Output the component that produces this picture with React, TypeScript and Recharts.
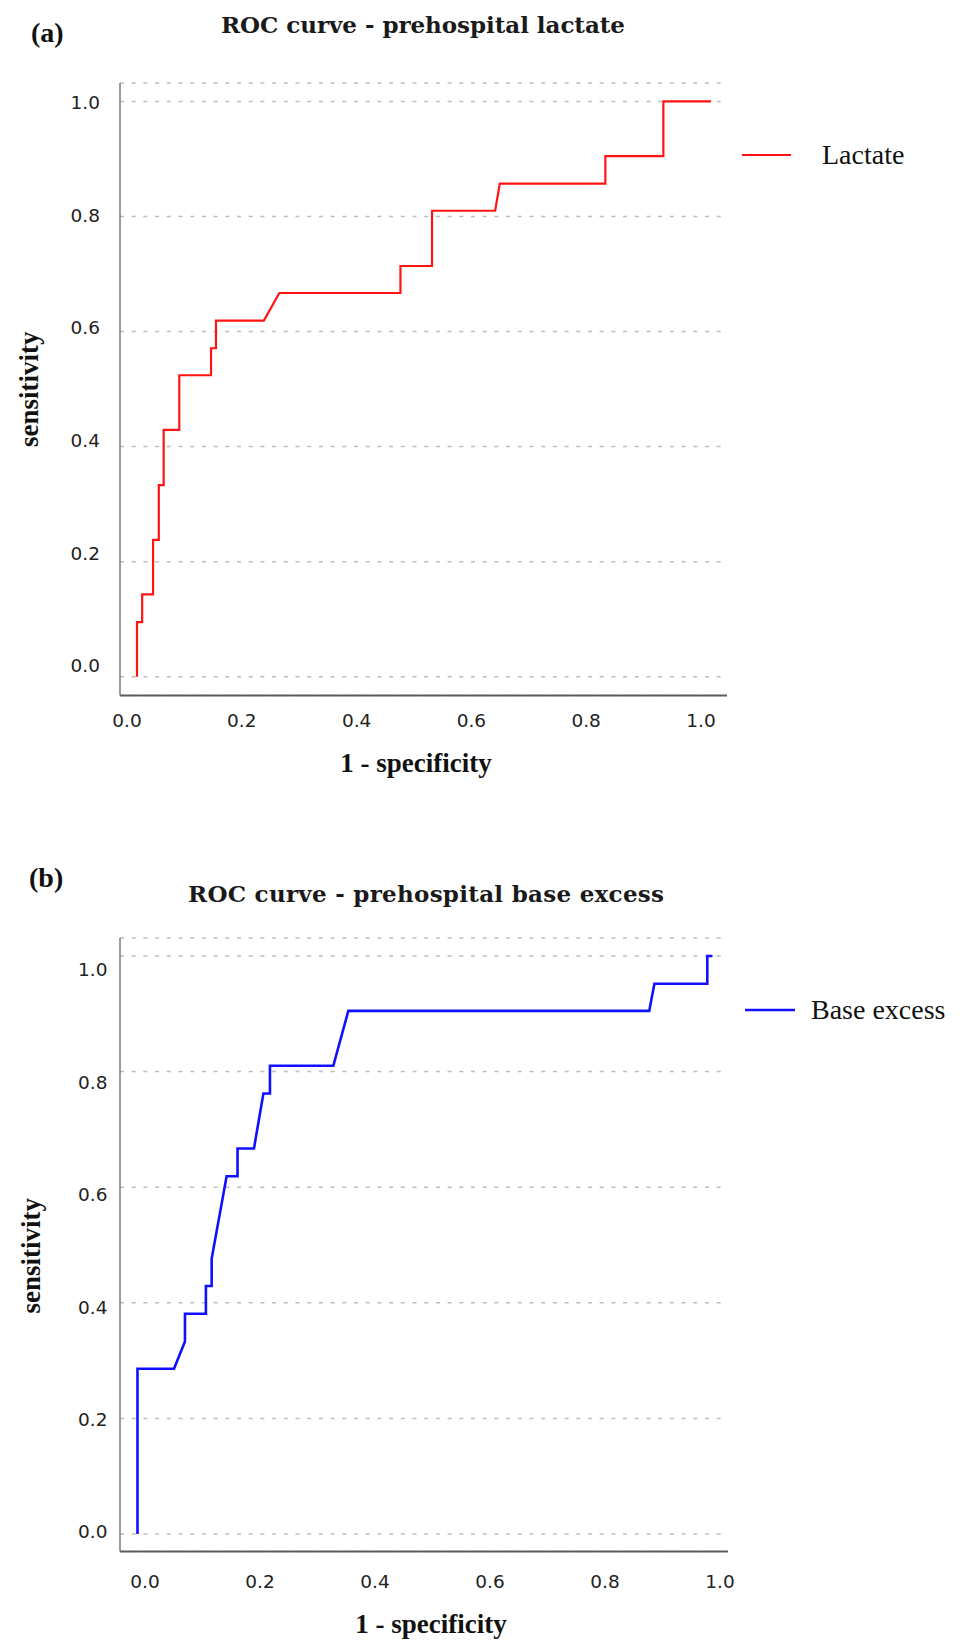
import React from "react";
import { LineChart, Line, XAxis, YAxis, CartesianGrid, Legend, Label } from "recharts";

// ROC points: x = 1 - specificity, y = sensitivity
const lactateFpr = [0, 0, 0.009, 0.009, 0.028, 0.028, 0.038, 0.038, 0.0465, 0.0465, 0.0737, 0.0737, 0.129, 0.129, 0.1376, 0.1376, 0.221, 0.248, 0.459, 0.459, 0.514, 0.514, 0.624, 0.632, 0.816, 0.816, 0.917, 0.917, 1.0];
const lactateTpr = [0, 0.095, 0.095, 0.143, 0.143, 0.238, 0.238, 0.333, 0.333, 0.429, 0.429, 0.524, 0.524, 0.571, 0.571, 0.619, 0.619, 0.667, 0.667, 0.714, 0.714, 0.81, 0.81, 0.857, 0.857, 0.905, 0.905, 1.0, 1.0];

const baseExcessFpr = [0, 0, 0.0635, 0.0826, 0.0826, 0.119, 0.119, 0.129, 0.129, 0.155, 0.174, 0.174, 0.2026, 0.219, 0.2304, 0.2304, 0.3406, 0.3667, 0.89, 0.899, 0.991, 0.991, 1.0];
const baseExcessTpr = [0, 0.286, 0.286, 0.333, 0.381, 0.381, 0.429, 0.429, 0.476, 0.619, 0.619, 0.667, 0.667, 0.762, 0.762, 0.81, 0.81, 0.905, 0.905, 0.952, 0.952, 1.0, 1.0];

const axisTicks = [0, 0.2, 0.4, 0.6, 0.8, 1.0];
const tickLabels = ["0.0", "0.2", "0.4", "0.6", "0.8", "1.0"];

const xAxisTitle = "1 - specificity";
const yAxisTitle = "sensitivity";

const TICK_FONT = '"DejaVu Sans", sans-serif';
const SERIF = '"Liberation Serif", "Times New Roman", serif';
const TITLE_FONT = '"DejaVu Serif", serif';

const tickText = (v: number) => tickLabels[axisTicks.indexOf(v)] ?? v.toFixed(1);

const PanelChart = (p: any) => {
  const data = p.fpr.map((x: number, i: number) => ({ fpr: x, tpr: p.tpr[i] }));

  const xTick = (props: any) => (
    <text
      x={props.x + p.xTickDx}
      y={props.y + p.xTickDy}
      textAnchor="middle"
      dominantBaseline="central"
      fontFamily={TICK_FONT}
      fontSize={18.5}
      fill="#222"
    >
      {tickText(props.payload.value)}
    </text>
  );

  const yTick = (props: any) => (
    <text
      x={props.x - p.yTickGap}
      y={props.y + p.yTickDy(props.payload.value)}
      textAnchor="end"
      dominantBaseline="central"
      fontFamily={TICK_FONT}
      fontSize={18.5}
      fill="#222"
    >
      {tickText(props.payload.value)}
    </text>
  );

  return (
    <div style={{ position: "absolute", left: 0, top: p.top, width: 963, height: p.height }}>
      <LineChart width={963} height={p.height} data={data} margin={p.margin}>
        <CartesianGrid
          horizontal={true}
          vertical={false}
          stroke="#bdbdbd"
          strokeWidth={1.5}
          strokeDasharray="4 7.7"
        />
        <XAxis
          dataKey="fpr"
          type="number"
          domain={p.xDomain}
          allowDataOverflow
          ticks={axisTicks}
          height={40}
          tickSize={0}
          tickMargin={0}
          tickLine={false}
          axisLine={{ stroke: "#5c5c5c", strokeWidth: 2 }}
          tick={xTick}
        >
          <Label
            content={(lp: any) => {
              const vb = lp.viewBox;
              return (
                <text
                  x={vb.x + vb.width / 2 + p.xLabelDx}
                  y={vb.y + p.xLabelDy}
                  textAnchor="middle"
                  dominantBaseline="central"
                  fontFamily={SERIF}
                  fontWeight="bold"
                  fontSize={27}
                  fill="#111"
                >
                  {xAxisTitle}
                </text>
              );
            }}
          />
        </XAxis>
        <YAxis
          type="number"
          domain={p.yDomain}
          allowDataOverflow
          ticks={axisTicks}
          width={120}
          tickSize={0}
          tickMargin={0}
          tickLine={false}
          axisLine={{ stroke: "#7a7a7a", strokeWidth: 1.5 }}
          tick={yTick}
        >
          <Label
            content={(lp: any) => {
              const vb = lp.viewBox;
              const cx = vb.x + p.yLabelX;
              const cy = vb.y + vb.height / 2 + p.yLabelDy;
              return (
                <text
                  x={cx}
                  y={cy}
                  transform={`rotate(-90 ${cx} ${cy})`}
                  textAnchor="middle"
                  dominantBaseline="central"
                  fontFamily={SERIF}
                  fontWeight="bold"
                  fontSize={27}
                  fill="#111"
                >
                  {yAxisTitle}
                </text>
              );
            }}
          />
        </YAxis>
        {/* centre/middle alignment keeps the legend from eating into the plot margins */}
        <Legend
          layout="horizontal"
          verticalAlign="middle"
          align="center"
          wrapperStyle={{ left: p.legendLeft, top: p.legendTop, right: "auto", width: 222, height: 40 }}
          content={() => (
            <div style={{ display: "flex", alignItems: "center", height: 40 }}>
              <svg width={p.legendLine} height={6} style={{ display: "block" }}>
                <line x1={0} y1={3} x2={p.legendLine} y2={3} stroke={p.color} strokeWidth={p.strokeWidth} />
              </svg>
              <span style={{ marginLeft: p.legendGap, fontFamily: SERIF, fontSize: 28, color: "#111", lineHeight: "40px" }}>
                {p.name}
              </span>
            </div>
          )}
        />
        <Line
          type="linear"
          dataKey="tpr"
          name={p.name}
          stroke={p.color}
          strokeWidth={p.strokeWidth}
          dot={false}
          activeDot={false}
          isAnimationActive={false}
        />
      </LineChart>
      <svg
        width={963}
        height={p.height}
        style={{ position: "absolute", left: 0, top: 0, pointerEvents: "none" }}
      >
        <text
          x={p.letterX}
          y={p.letterY}
          dominantBaseline="central"
          fontFamily={SERIF}
          fontWeight="bold"
          fontSize={28}
          fill="#111"
        >
          {p.letter}
        </text>
        <text
          x={p.titleX}
          y={p.titleY}
          textAnchor="middle"
          dominantBaseline="central"
          fontFamily={TITLE_FONT}
          fontWeight="bold"
          fontSize={23}
          textLength={p.titleWidth}
          fill="#1a1a1a"
        >
          {p.title}
        </text>
      </svg>
    </div>
  );
};

const App = () => (
  <div style={{ position: "absolute", left: 0, top: 0, width: 963, height: 1642, background: "#fff" }}>
    <PanelChart
      letter="(a)"
      title="ROC curve - prehospital lactate"
      titleX={423}
      titleY={24}
      titleWidth={404}
      letterX={31}
      letterY={32}
      name="Lactate"
      color="#ff1414"
      strokeWidth={2.2}
      fpr={lactateFpr}
      tpr={lactateTpr}
      top={0}
      height={800}
      margin={{ top: 83, right: 236, left: 0, bottom: 64.5 }}
      xDomain={[-0.0296, 1.0279]}
      yDomain={[-0.0327, 1.0321]}
      xTickDx={-10}
      xTickDy={24.5}
      yTickGap={20}
      yTickDy={(v: number) => -11 + 12 * v}
      xLabelDx={-7.5}
      xLabelDy={67.5}
      yLabelX={29}
      yLabelDy={0}
      legendLeft={742}
      legendTop={135}
      legendLine={49}
      legendGap={31}
    />
    <PanelChart
      letter="(b)"
      title="ROC curve - prehospital base excess"
      titleX={426}
      titleY={53}
      titleWidth={476}
      letterX={29}
      letterY={37}
      name="Base excess"
      color="#1010ff"
      strokeWidth={2.6}
      fpr={baseExcessFpr}
      tpr={baseExcessTpr}
      top={840}
      height={802}
      margin={{ top: 98, right: 235, left: 0, bottom: 50.5 }}
      xDomain={[-0.0304, 1.027]}
      yDomain={[-0.0303, 1.0311]}
      xTickDx={7.5}
      xTickDy={29.5}
      yTickGap={12.5}
      yTickDy={(v: number) => -2 + 16 * v}
      xLabelDx={7}
      xLabelDy={72.5}
      yLabelX={31}
      yLabelDy={11}
      legendLeft={745}
      legendTop={150}
      legendLine={50}
      legendGap={16}
    />
  </div>
);

export default App;
